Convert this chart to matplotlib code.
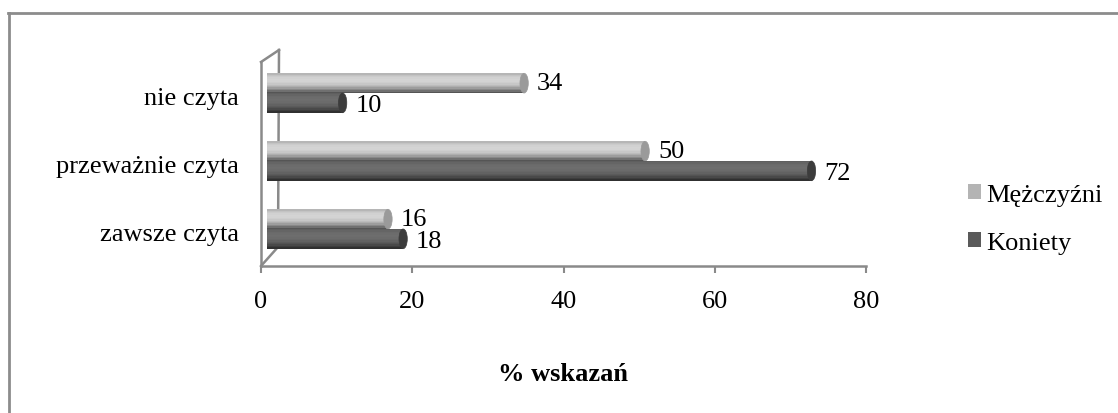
import matplotlib
matplotlib.use("Agg")
import matplotlib.pyplot as plt
import matplotlib.transforms as mtransforms
from matplotlib.patches import Ellipse, Patch
from matplotlib.lines import Line2D
import numpy as np

# Survey data (% of responses)
categories = ["zawsze czyta", "przeważnie czyta", "nie czyta"]
series_names = ["Mężczyźni", "Koniety"]
men = [16, 50, 34]
women = [18, 72, 10]
x_ticks = [0, 20, 40, 60, 80]
x_label = "% wskazań"

plt.rcParams["font.family"] = ["Liberation Serif", "DejaVu Serif"]
FS = 19
GRAY = "#8a8a8a"

W, H, DPI = 1118, 414, 100
fig = plt.figure(figsize=(W / DPI, H / DPI), dpi=DPI)

# plot area (front face of the 3-D box), in pixels
left_px, right_px, top_px, bottom_px = 261, 866, 63, 267
AW, AH = right_px - left_px, bottom_px - top_px
ax = fig.add_axes([left_px / W, 1 - bottom_px / H, AW / W, AH / H])
ax.set_xlim(0, 80)
ax.set_ylim(-0.5, 2.5)
ax.patch.set_alpha(0)

for s in ["top", "right"]:
    ax.spines[s].set_visible(False)
for s in ["left", "bottom"]:
    ax.spines[s].set_color(GRAY)
    ax.spines[s].set_linewidth(1.8)
    ax.spines[s].set_zorder(0.5)

ax.set_xticks(x_ticks)
ax.set_xticklabels([str(t) for t in x_ticks], fontsize=FS)
ax.tick_params(axis="x", direction="out", length=5, width=1.5, color=GRAY, pad=12)
ax.set_yticks(range(len(categories)))
ax.set_yticklabels(categories, fontsize=FS)
ax.tick_params(axis="y", length=0, pad=16)
ax.set_xlabel(x_label, fontsize=FS, fontweight="bold", labelpad=36)


def px_shift(dx, dy):
    return mtransforms.ScaledTranslation(dx / DPI, dy / DPI, fig.dpi_scale_trans)


# back wall and side edges of the 3-D box (behind the bars)
wall_kw = dict(transform=ax.transAxes, color=GRAY, lw=1.8, clip_on=False, zorder=0.5)
ax.add_line(Line2D([18 / AW, 17 / AW], [1 + 12 / AH, 19 / AH], **wall_kw))
ax.add_line(Line2D([0, 18 / AW], [1, 1 + 12 / AH], **wall_kw))
ax.add_line(Line2D([0, 17 / AW], [0, 19 / AH], **wall_kw))

# bars sit in the middle of the depth
bar_tr = ax.transData + px_shift(6, 3)
bar_h = 0.29
n_strips = 14


def shade(base, n):
    # cylinder-like vertical shading: darker at the lower edge, highlight above centre
    t = np.linspace(-1, 1, n)
    light = 1.0 - 0.35 * (t + 0.35) ** 2
    return [tuple(np.clip(np.array(base) * l + 0.05, 0, 1)) for l in light]


men_base = (0.78, 0.78, 0.78)
women_base = (0.38, 0.38, 0.38)
men_cap = "#9a9a9a"
women_cap = "#3c3c3c"
men_leg = "#b4b4b4"
women_leg = "#5a5a5a"

data_sets = [(men, +bar_h / 2, men_base, men_cap), (women, -bar_h / 2, women_base, women_cap)]
ypos = np.arange(len(categories))
for vals, off, base, capc in data_sets:
    cols = shade(base, n_strips)
    sh = bar_h / n_strips
    for k, c in enumerate(cols):
        yk = ypos + off + bar_h / 2 - (k + 0.5) * sh
        bars = ax.barh(yk, vals, height=sh * 1.02, color=c, linewidth=0, zorder=2)
        for p in bars.patches:
            p.set_transform(bar_tr)
            p.set_clip_on(False)
    for yi, v in zip(ypos, vals):
        e = Ellipse((v, yi + off), width=1.1, height=bar_h, facecolor=capc,
                    edgecolor=capc, lw=0.5, transform=bar_tr, clip_on=False, zorder=2)
        ax.add_patch(e)
        ax.text(v, yi + off, str(v), fontsize=FS, ha="left", va="center",
                transform=bar_tr + px_shift(13, -2 if off < 0 else 0), clip_on=False,
                zorder=3)

# legend
handles = [Patch(facecolor=men_leg, edgecolor="none"), Patch(facecolor=women_leg, edgecolor="none")]
fig.legend(handles, series_names, loc="center left", bbox_to_anchor=(968 / W, 1 - 220 / H),
           frameon=False, fontsize=FS, handlelength=0.5, handleheight=0.5,
           handletextpad=0.2, labelspacing=1.0, borderpad=0, borderaxespad=0)

# outer border
fig.add_artist(Line2D([9 / W, 9 / W], [0, 1 - 14 / H], transform=fig.transFigure,
                      color="#8c8c8c", lw=2))
fig.add_artist(Line2D([8 / W, 1], [1 - 14 / H, 1 - 14 / H], transform=fig.transFigure,
                      color="#8c8c8c", lw=2))

fig.savefig("out.png", dpi=DPI, facecolor="white")
